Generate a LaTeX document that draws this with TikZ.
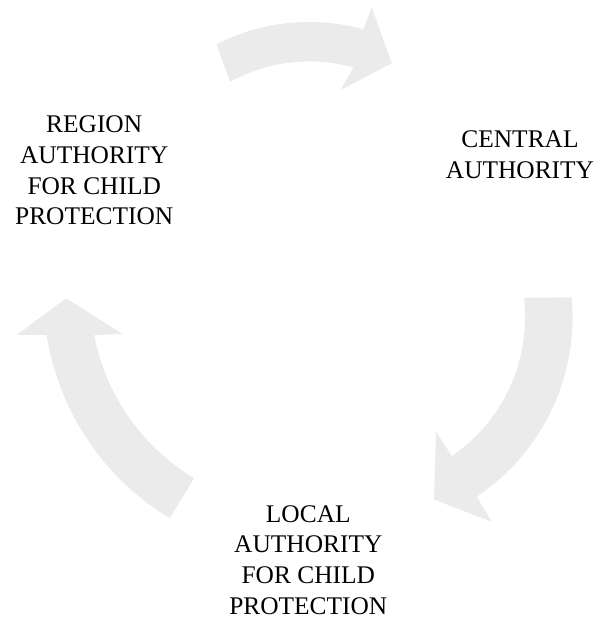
\documentclass[tikz,border=0pt]{standalone}
\usepackage{fontspec}
\setmainfont{Liberation Serif}
\definecolor{arrowfill}{RGB}{235,235,235}
\begin{document}
\begin{tikzpicture}[x=1pt,y=1pt,
  cyclearrow/.style={fill=arrowfill,draw=none},
  label/.style={align=center,inner sep=0pt,anchor=base,font=\fontsize{25.4}{30.8}\selectfont}]
\useasboundingbox (0,0) rectangle (598,619);
% centres of the arcs
\coordinate (ct) at (309.3,393.6);
\coordinate (cr) at (357.1,301.7);
\coordinate (cl) at (304.8,324.5);
% head points
\coordinate (topA) at (371.7,611.7);
\coordinate (topT) at (391.7,555.7);
\coordinate (topB) at (340.7,529);
\coordinate (rA) at (491.7,97.3);
\coordinate (rT) at (434,119.5);
\coordinate (rB) at (436,187.3);
\coordinate (lA) at (16.7,284);
\coordinate (lT) at (66,320.7);
\coordinate (lB) at (122.7,285);
% top arrow
\fill[cyclearrow] ([shift={(117.1:203.4)}]ct) arc[start angle=117.1,end angle=74.6,radius=203.4]
  -- (topA) -- (topT) -- (topB) -- ([shift={(74.4:164)}]ct)
  arc[start angle=74.4,end angle=118.9,radius=164] -- cycle;
% right arrow
\fill[cyclearrow] ([shift={(5.3:215.5)}]cr) arc[start angle=5.3,end angle=-56.3,radius=215.5]
  -- (rA) -- (rT) -- (rB) -- ([shift={(-55.7:168)}]cr)
  arc[start angle=-55.7,end angle=6.7,radius=168] -- cycle;
% left arrow
\fill[cyclearrow] ([shift={(238.9:261.3)}]cl) arc[start angle=238.9,end angle=188.9,radius=261.3]
  -- (lA) -- (lT) -- (lB) -- ([shift={(190.9:214.5)}]cl)
  arc[start angle=190.9,end angle=238.9,radius=214.5] -- cycle;
% labels (base anchor = baseline of the last line)
\node[label] (region) at (94.2,394) {REGION\\AUTHORITY\\FOR CHILD\\PROTECTION};
\node[label] (central) at (520,440.7) {CENTRAL\\AUTHORITY};
\node[label,text depth=0pt] (local) at (308.3,4.5) {LOCAL\\AUTHORITY\\FOR CHILD\\PROTECTION};
\end{tikzpicture}
\end{document}
